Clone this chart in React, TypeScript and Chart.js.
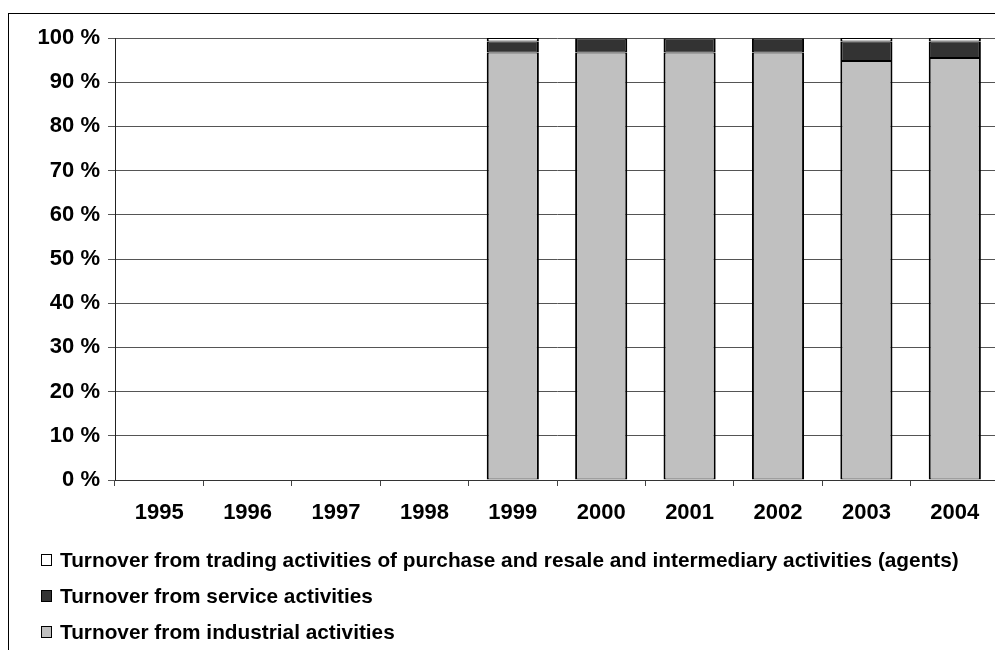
import React, { useEffect, useRef } from "react";
import { Chart, registerables } from "chart.js";

Chart.register(...registerables);

const categories = ["1995", "1996", "1997", "1998", "1999", "2000", "2001", "2002", "2003", "2004"];
const industrial = [null, null, null, null, 96.7, 96.7, 96.7, 96.7, 94.8, 95.5];
const service = [null, null, null, null, 2.5, 3.2, 3.2, 3.2, 4.4, 3.7];
const trading = [null, null, null, null, 0.8, 0.1, 0.1, 0.1, 0.8, 0.8];
const yTicks = [0, 10, 20, 30, 40, 50, 60, 70, 80, 90, 100];
const seriesLabels = [
  "Turnover from industrial activities",
  "Turnover from service activities",
  "Turnover from trading activities of purchase and resale and intermediary activities (agents)",
];
const seriesColors = ["#C0C0C0", "#333333", "#FFFFFF"];

const FONT = '"Liberation Sans", Arial, sans-serif';

const framePlugin = {
  id: "frame",
  beforeDraw(chart: any) {
    const ctx = chart.ctx;
    ctx.save();
    ctx.fillStyle = "#ffffff";
    ctx.fillRect(0, 0, chart.width, chart.height);
    ctx.strokeStyle = "#000000";
    ctx.lineWidth = 1;
    ctx.strokeRect(8.5, 13.5, chart.width + 50, chart.height + 50);
    ctx.restore();
  },
};

const legendPlugin = {
  id: "stackLegend",
  afterDraw(chart: any) {
    const ctx = chart.ctx;
    const ds = chart.data.datasets.slice().reverse();
    ctx.save();
    ctx.font = `bold 20.8px ${FONT}`;
    ctx.textBaseline = "alphabetic";
    ctx.textAlign = "left";
    ds.forEach((d: any, i: number) => {
      const base = 567 + i * 36;
      ctx.fillStyle = d.backgroundColor;
      ctx.fillRect(41, base - 13, 10, 11);
      ctx.strokeStyle = "#000";
      ctx.lineWidth = 1;
      ctx.strokeRect(41.5, base - 12.5, 10, 11);
      ctx.fillStyle = "#000";
      ctx.fillText(d.label, 60, base);
    });
    ctx.restore();
  },
};

export default function App() {
  const ref = useRef<HTMLCanvasElement>(null);
  useEffect(() => {
    if (!ref.current) return;
    const data = [industrial, service, trading];
    const chart = new Chart(ref.current, {
      type: "bar",
      data: {
        labels: categories,
        datasets: data.map((vals, i) => ({
          label: seriesLabels[i],
          data: vals as any,
          backgroundColor: seriesColors[i],
          borderColor: "#000000",
          borderWidth: { top: 1, bottom: 1, left: 2, right: 2 },
          borderSkipped: false,
          barPercentage: 0.59,
          categoryPercentage: 1,
        })),
      },
      options: {
        animation: false,
        responsive: false,
        devicePixelRatio: 1,
        layout: { padding: { left: 0, right: 21, top: 38, bottom: 120 } },
        plugins: {
          legend: { display: false },
          tooltip: { enabled: false },
        },
        scales: {
          x: {
            stacked: true,
            offset: true,
            grid: {
              display: true,
              drawOnChartArea: false,
              drawTicks: true,
              tickLength: 6,
              color: "#444",
              offset: true,
            },
            border: { display: true, color: "#333", width: 1 },
            ticks: {
              color: "#000",
              font: { family: FONT, size: 22, weight: "bold" },
              padding: 14,
              maxRotation: 0,
              autoSkip: false,
            },
            afterFit(scale: any) {
              scale.height = 50;
            },
          },
          y: {
            stacked: true,
            min: 0,
            max: 100,
            afterBuildTicks(scale: any) {
              scale.ticks = yTicks.map((v) => ({ value: v }));
            },
            grid: {
              color: "#555",
              lineWidth: 1,
              drawTicks: true,
              tickLength: 7,
            },
            border: { display: true, color: "#222", width: 1 },
            ticks: {
              color: "#000",
              font: { family: FONT, size: 22, weight: "bold" },
              padding: 8,
              callback: (v: any) => `${v} %`,
            },
            afterFit(scale: any) {
              scale.width = 115;
            },
          },
        },
      },
      plugins: [framePlugin, legendPlugin],
    });
    return () => chart.destroy();
  }, []);
  return (
    <div
      style={{
        position: "fixed",
        left: 0,
        top: 0,
        width: 995,
        height: 650,
        overflow: "hidden",
        background: "#fff",
      }}
    >
      <canvas ref={ref} width={1020} height={650} style={{ position: "absolute", left: 0, top: 0 }} />
    </div>
  );
}
